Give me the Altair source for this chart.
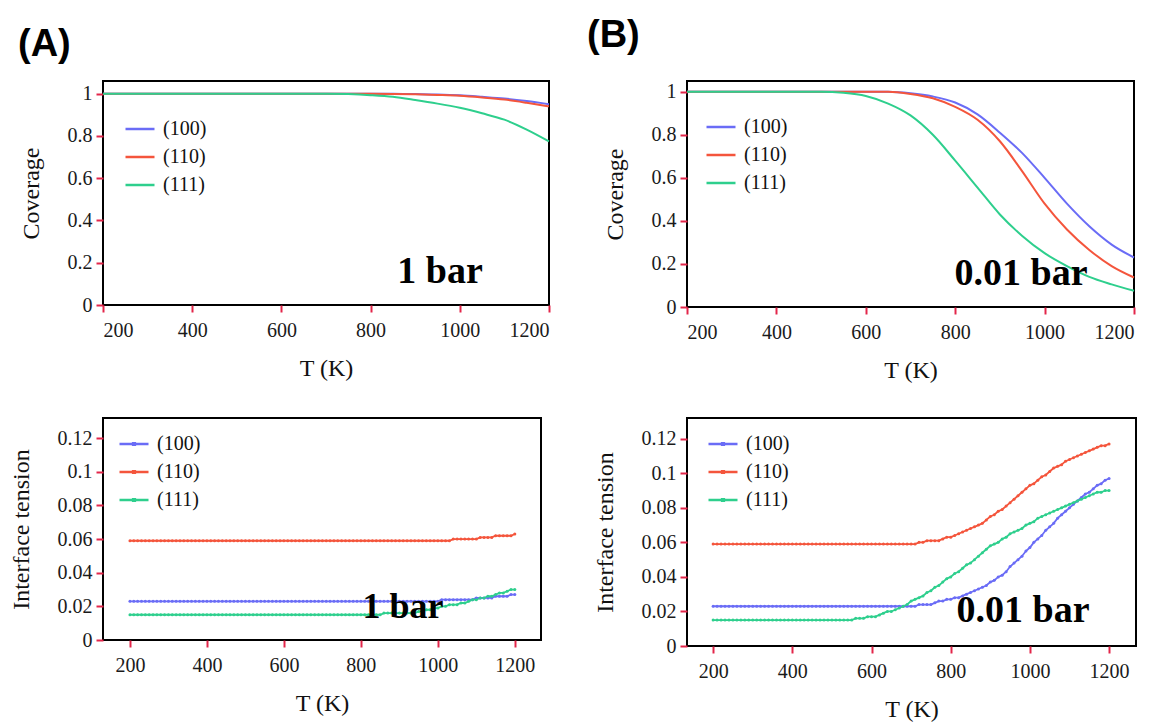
import altair as alt
import pandas as pd

SERIES = ["(100)", "(110)", "(111)"]
COLORS = ["#6a6cf6", "#f4553c", "#2ecf8d"]
SERIF = "Liberation Serif"

# ---- Coverage panels (T grid 50 K) ----
T_cov = [200, 250, 300, 350, 400, 450, 500, 550, 600, 650, 700,
         750, 800, 850, 900, 950, 1000, 1050, 1100, 1150, 1200]
cov1_100 = [1.0] * 14 + [0.998, 0.996, 0.992, 0.985, 0.977, 0.965, 0.95]
cov1_110 = [1.0] * 13 + [0.999, 0.997, 0.994, 0.99, 0.982, 0.972, 0.957, 0.94]
cov1_111 = [1.0] * 11 + [0.998, 0.993, 0.985, 0.97, 0.953, 0.933, 0.907, 0.877, 0.83, 0.774]
cov01_100 = [1.0] * 10 + [0.993, 0.978, 0.95, 0.895, 0.81, 0.715, 0.60, 0.48, 0.375, 0.29, 0.23]
cov01_110 = [1.0] * 10 + [0.99, 0.97, 0.93, 0.87, 0.77, 0.63, 0.48, 0.36, 0.265, 0.19, 0.137]
cov01_111 = [1.0] * 7 + [0.995, 0.98, 0.945, 0.89, 0.80, 0.68, 0.555, 0.43, 0.33, 0.25,
                         0.19, 0.14, 0.105, 0.075]

# ---- Interface tension panels (T grid 10 K) ----
T_ten = list(range(200, 1201, 10))
ten1_100 = [0.023] * 81 + [0.024] * 9 + [0.025] * 5 + [0.026] * 4 + [0.027] * 2
ten1_110 = [0.059] * 84 + [0.060] * 7 + [0.061] * 4 + [0.062] * 5 + [0.063]
ten1_111 = [0.015] * 66 + [0.016] * 9 + [
    0.017, 0.017, 0.018, 0.018, 0.019, 0.019, 0.020, 0.020, 0.021, 0.021,
    0.021, 0.022, 0.022, 0.023, 0.024, 0.024, 0.025, 0.025, 0.026, 0.026,
    0.027, 0.028, 0.028, 0.029, 0.030, 0.030]
ten01_100 = [0.023] * 51 + [
    0.023, 0.024, 0.024, 0.024, 0.024, 0.025, 0.026, 0.026, 0.027, 0.027,
    0.028, 0.028, 0.029, 0.030, 0.031, 0.032, 0.033, 0.034, 0.035, 0.037,
    0.038, 0.040, 0.041, 0.043, 0.046, 0.048, 0.050, 0.052, 0.055, 0.057,
    0.060, 0.062, 0.064, 0.067, 0.069, 0.071, 0.074, 0.076, 0.078, 0.080,
    0.082, 0.084, 0.086, 0.088, 0.089, 0.091, 0.093, 0.094, 0.096, 0.097]
ten01_110 = [0.059] * 51 + [
    0.059, 0.060, 0.060, 0.061, 0.061, 0.061, 0.061, 0.062, 0.063, 0.063,
    0.064, 0.065, 0.066, 0.067, 0.068, 0.069, 0.070, 0.071, 0.073, 0.075,
    0.076, 0.078, 0.079, 0.081, 0.083, 0.085, 0.087, 0.089, 0.091, 0.093,
    0.094, 0.096, 0.098, 0.099, 0.101, 0.103, 0.104, 0.105, 0.107, 0.108,
    0.109, 0.110, 0.111, 0.112, 0.113, 0.114, 0.115, 0.116, 0.116, 0.117]
ten01_111 = [0.015] * 36 + [
    0.016, 0.016, 0.016, 0.017, 0.017,
    0.017, 0.018, 0.019, 0.020, 0.020, 0.021, 0.022, 0.023, 0.024, 0.026,
    0.027, 0.028, 0.029, 0.031, 0.032, 0.034, 0.035, 0.037, 0.039, 0.040,
    0.042, 0.043, 0.045, 0.047, 0.048, 0.050, 0.052, 0.054, 0.056, 0.058,
    0.059, 0.060, 0.062, 0.063, 0.065, 0.066, 0.067, 0.068, 0.070, 0.071,
    0.072, 0.074, 0.075, 0.076, 0.077, 0.078, 0.079, 0.080, 0.081, 0.082,
    0.083, 0.084, 0.085, 0.086, 0.087, 0.088, 0.089, 0.089, 0.090, 0.090]

X_TICKS = [200, 400, 600, 800, 1000, 1200]
COV_TICKS = [0, 0.2, 0.4, 0.6, 0.8, 1]
TEN_TICKS = [0, 0.02, 0.04, 0.06, 0.08, 0.1, 0.12]

AXIS_STYLE = dict(
    domain=False, grid=False, ticks=True, tickColor="#e3264a", tickSize=7,
    tickWidth=2, labelFont=SERIF, labelFontSize=20, labelColor="#1a1a1a",
    titleFont=SERIF, titleFontSize=24, titleFontWeight="normal", titleColor="#111",
)

LINE_SYMBOL = "stroke"
LINE_DOT_SYMBOL = "M-1,0H1M-0.06,-0.06H0.06V0.06H-0.06Z"


def panel(T, s100, s110, s111, ydom, yticks, ytitle, xdom, w, h,
          note, note_x, note_y, note_size, leg_x, leg_y, markers,
          tag=None, tag_x=0, tag_y=0):
    n = len(T)
    df = pd.DataFrame({
        "T": T * 3,
        "v": s100 + s110 + s111,
        "s": [SERIES[0]] * n + [SERIES[1]] * n + [SERIES[2]] * n,
    })
    color = alt.Color(
        "s:N", sort=SERIES,
        scale=alt.Scale(domain=SERIES, range=COLORS),
        legend=alt.Legend(title=None, orient="none", legendX=leg_x, legendY=leg_y,
                          symbolType=LINE_DOT_SYMBOL if markers else LINE_SYMBOL,
                          symbolSize=841, symbolStrokeWidth=2.5,
                          labelFont=SERIF, labelFontSize=20, labelColor="#111",
                          rowPadding=2, labelOffset=7, padding=0),
    )
    x = alt.X("T:Q", scale=alt.Scale(domain=xdom, nice=False, zero=False),
              axis=alt.Axis(values=X_TICKS, title="T (K)", format="d",
                            labelPadding=8, titlePadding=16, **AXIS_STYLE))
    y = alt.Y("v:Q", scale=alt.Scale(domain=ydom, nice=False),
              axis=alt.Axis(values=yticks, title=ytitle, format="~g",
                            labelPadding=4, titlePadding=24, **AXIS_STYLE))
    base = alt.Chart(df)
    if markers:
        line = base.mark_line(strokeWidth=1.8,
                              point=alt.OverlayMarkDef(filled=True, size=9))
    else:
        line = base.mark_line(strokeWidth=2, interpolate="monotone")
    line = line.encode(x=x, y=y, color=color, detail="s:N")
    layers = [line]
    layers.append(
        alt.Chart(pd.DataFrame({"t": [note]})).mark_text(
            font=SERIF, fontWeight="bold", fontSize=note_size, align="center",
            baseline="alphabetic", color="#000"
        ).encode(text="t:N", x=alt.value(note_x), y=alt.value(note_y))
    )
    if tag:
        layers.append(
            alt.Chart(pd.DataFrame({"t": [tag]})).mark_text(
                font="Liberation Sans", fontWeight="bold", fontSize=38, align="left",
                baseline="alphabetic", color="#000"
            ).encode(text="t:N", x=alt.value(tag_x), y=alt.value(tag_y))
        )
    return alt.layer(*layers).properties(width=w, height=h)


topA = panel(T_cov, cov1_100, cov1_110, cov1_111, [0, 1.06], COV_TICKS, "Coverage",
             [200, 1200], 446, 224, "1 bar", 337, 202, 38, 21, 32, False,
             "(A)", -85, -25)
topB = panel(T_cov, cov01_100, cov01_110, cov01_111, [0, 1.05], COV_TICKS, "Coverage",
             [200, 1200], 447, 226, "0.01 bar", 334, 204, 38, 18, 30, False,
             "(B)", -100, -34)
botA = panel(T_ten, ten1_100, ten1_110, ten1_111, [0, 0.132], TEN_TICKS,
             "Interface tension", [130, 1268], 438, 222, "1 bar", 300, 200, 36,
             15, 10, True)
botB = panel(T_ten, ten01_100, ten01_110, ten01_111, [0, 0.132], TEN_TICKS,
             "Interface tension", [134, 1268], 449, 228, "0.01 bar", 336, 204, 38,
             20, 10, True)

chart = alt.concat(
    topA, topB, botA, botB, columns=2, bounds="flush",
    spacing=alt.RowColnumber(row=111, column=138),
).resolve_scale(
    x="independent", y="independent", color="independent"
).resolve_legend(color="independent").configure_view(
    stroke="#000", strokeWidth=2
).properties(
    padding={"left": 0, "top": 8, "right": 0, "bottom": 0}, background="#ffffff"
)

chart.save("out.html", embed_options={"renderer": "svg", "actions": False})
